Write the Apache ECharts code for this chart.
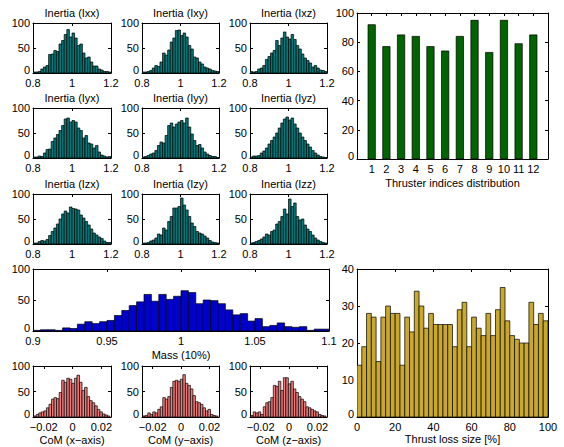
<!DOCTYPE html>
<html><head><meta charset="utf-8">
<script src="https://cdn.jsdelivr.net/npm/echarts@6/dist/echarts.min.js"></script>
<style>html,body{margin:0;padding:0;background:#fff}#c{width:564px;height:447px}</style>
</head><body><div id="c"></div>
<script>
// ---------- data ----------
const inertiaTitles = ['Inertia (Ixx)','Inertia (Ixy)','Inertia (Ixz)','Inertia (Iyx)','Inertia (Iyy)','Inertia (Iyz)','Inertia (Izx)','Inertia (Izy)','Inertia (Izz)'];
const inertiaRange = [0.8, 1.2];
const inertiaTicks = [0.8, 1, 1.2];
const Ixx = [2,2,3,8,12,15,37,38,45,43,58,65,77,87,72,80,70,55,58,40,30,32,22,14,14,8,6,3,3,2];
const Ixy = [2,2,3,5,10,15,13,22,40,36,46,62,70,85,86,75,80,72,55,48,32,30,22,18,12,10,8,5,4,3];
const Ixz = [3,2,3,8,10,15,27,33,40,45,65,55,70,82,72,68,77,67,55,48,38,30,25,20,12,15,10,6,5,3];
const Iyx = [2,2,4,3,10,17,18,33,40,47,55,65,78,80,72,75,72,60,55,40,45,30,28,20,25,12,6,4,2,3];
const Iyy = [2,3,5,8,10,15,25,32,30,45,65,70,62,68,72,75,70,80,62,48,35,25,27,20,12,8,5,3,3,1];
const Iyz = [2,4,4,5,10,14,20,28,35,42,50,60,70,78,82,76,80,68,60,50,42,35,28,22,15,10,6,3,2,1];
const Izx = [2,2,5,7,6,9,17,25,32,40,50,60,66,62,74,71,70,68,58,52,45,38,30,22,18,14,11,6,3,3];
const Izy = [2,2,3,6,8,12,20,18,32,28,45,55,72,72,75,92,78,68,55,42,35,25,22,20,16,12,7,4,3,2];
const Izz = [2,3,5,7,10,14,20,18,25,28,40,45,55,70,60,90,75,82,55,48,50,38,30,25,18,12,8,5,3,2];
const inertiaCounts = [Ixx,Ixy,Ixz,Iyx,Iyy,Iyz,Izx,Izy,Izz];

const thrusterIdx = [1,2,3,4,5,6,7,8,9,10,11,12];
const thrusterCounts = [92,77,85,84,77,74,84,95,73,95,79,85];

const massRange = [0.9, 1.1];
const massTicks = [0.9, 0.95, 1, 1.05, 1.1];
const massCounts = [1,2,2,1,5,4,11,15,12,15,17,25,33,41,47,59,48,59,51,56,65,62,44,50,49,44,34,26,28,16,20,7,9,13,7,6,7,1,3,3];

const comTitles = ['CoM (x\u2212axis)','CoM (y\u2212axis)','CoM (z\u2212axis)'];
const comAxisRange = [-0.0275, 0.0267];
const comBinRange = [-0.027, 0.026];
const comTicks = [-0.02, 0, 0.02];
const comX = [2,5,8,10,12,18,25,35,38,36,48,72,68,76,74,66,76,82,68,52,58,40,32,28,22,15,10,6,4,2];
const comY = [2,3,8,5,10,8,15,20,38,35,40,58,70,72,70,74,83,66,62,55,42,30,28,25,18,12,15,5,3,2];
const comZ = [3,10,8,10,5,20,28,30,38,62,60,70,52,77,77,65,70,55,48,40,35,30,20,18,15,12,10,5,3,2];
const comCounts = [comX, comY, comZ];

const lossRange = [0, 100];
const lossTicks = [0,20,40,60,80,100];
const lossCounts = [14,19,28,27,15,27,30,28,28,14,27,23,34,30,24,28,25,25,25,25,19,29,31,19,27,24,22,28,22,29,35,26,22,21,20,20,31,25,28,26];

// ---------- helpers ----------
const FONT = '"Liberation Sans", Arial, Helvetica, sans-serif';
const FS = 11;
const grids = [], xAxes = [], yAxes = [], series = [];

function fmtNum(v){ return v < 0 ? '\u2212' + String(Math.abs(v)) : String(v); }
function bins(counts, lo, hi){ const w = (hi-lo)/counts.length; return counts.map((c,i)=>[lo+i*w, lo+(i+1)*w, c]); }

function panel(box, xc, yc, data, color){
  const gi = grids.length;
  grids.push({left:box[0], top:box[1], width:box[2], height:box[3], containLabel:false});
  const line = {show:true, onZero:false, lineStyle:{color:'#000', width:1}};
  const tick = (vals)=>({show:true, inside:true, length:3, customValues:vals, lineStyle:{color:'#000', width:1}});
  const txt = {fontSize:FS, color:'#000', fontFamily:FONT};
  const xi = xAxes.length;
  xAxes.push({gridIndex:gi, type:'value', position:'bottom', min:xc.min, max:xc.max,
    axisLine:line, axisTick:tick(xc.ticks), splitLine:{show:false},
    axisLabel:Object.assign({customValues:xc.ticks, margin:4, formatter:fmtNum}, txt),
    name:xc.name||'', nameLocation:'middle', nameGap:xc.nameGap||16, nameTextStyle:txt});
  xAxes.push({gridIndex:gi, type:'value', position:'top', min:xc.min, max:xc.max,
    axisLine:line, axisTick:tick(xc.ticks), splitLine:{show:false}, axisLabel:{show:false},
    name:xc.title||'', nameLocation:'middle', nameGap:5, nameTextStyle:txt});
  const yi = yAxes.length;
  const yt = []; for(let v=yc.min; v<=yc.max; v+=yc.interval) yt.push(v);
  yAxes.push({gridIndex:gi, type:'value', position:'left', min:yc.min, max:yc.max, interval:yc.interval,
    axisLine:line, axisTick:tick(yt), splitLine:{show:false},
    axisLabel:Object.assign({margin:3,
      formatter:function(v){ return v === 0 ? '{z|0}' : String(v); },
      rich:{z:{fontSize:FS, color:'#000', fontFamily:FONT, padding:[0,0,6,0]}}}, txt)});
  yAxes.push({gridIndex:gi, type:'value', position:'right', min:yc.min, max:yc.max, interval:yc.interval,
    axisLine:line, axisTick:tick(yt), splitLine:{show:false}, axisLabel:{show:false}});
  series.push({type:'custom', xAxisIndex:xi, yAxisIndex:yi, data:data, silent:true, clip:true,
    encode:{x:[0,1], y:2},
    renderItem:function(params, api){
      const p0 = api.coord([api.value(0), 0]);
      const p1 = api.coord([api.value(1), api.value(2)]);
      return {type:'rect', shape:{x:p0[0], y:p1[1], width:p1[0]-p0[0], height:p0[1]-p1[1]},
        style:{fill:color, stroke:'#000', lineWidth:0.7}};
    }});
}

// ---------- layout ----------
const colL = [33, 142, 250], colW = [78, 77, 77];
const rowT = [23, 108, 194], rowH = 50;
const TEAL = '#007a7a';
for (let r=0; r<3; r++) for (let c=0; c<3; c++) {
  const k = r*3+c;
  panel([colL[c], rowT[r], colW[c], rowH],
    {min:inertiaRange[0], max:inertiaRange[1], ticks:inertiaTicks, title:inertiaTitles[k]},
    {min:0, max:100, interval:50},
    bins(inertiaCounts[k], inertiaRange[0], inertiaRange[1]), TEAL);
}
panel([357, 13, 191, 146],
  {min:0, max:13, ticks:thrusterIdx, name:'Thruster indices distribution', nameGap:18},
  {min:0, max:100, interval:20},
  thrusterIdx.map((t,i)=>[t-0.25, t+0.25, thrusterCounts[i]]), '#006400');
panel([33, 269, 296, 62],
  {min:massRange[0], max:massRange[1], ticks:massTicks, name:'Mass (10%)', nameGap:18},
  {min:0, max:100, interval:50},
  bins(massCounts, massRange[0], massRange[1]), '#0000cc');
for (let c=0; c<3; c++) {
  panel([colL[c], 366, colW[c], 51],
    {min:comAxisRange[0], max:comAxisRange[1], ticks:comTicks, name:comTitles[c], nameGap:17},
    {min:0, max:100, interval:50},
    bins(comCounts[c], comBinRange[0], comBinRange[1]), '#f07a7a');
}
panel([357, 269, 191, 148],
  {min:lossRange[0], max:lossRange[1], ticks:lossTicks, name:'Thrust loss size [%]', nameGap:16},
  {min:0, max:40, interval:10},
  bins(lossCounts, lossRange[0], lossRange[1]), '#c9a82c');

const chart = echarts.init(document.getElementById('c'), null, {renderer:'svg'});
chart.setOption({animation:false, backgroundColor:'#fff', grid:grids, xAxis:xAxes, yAxis:yAxes, series:series});
</script></body></html>
